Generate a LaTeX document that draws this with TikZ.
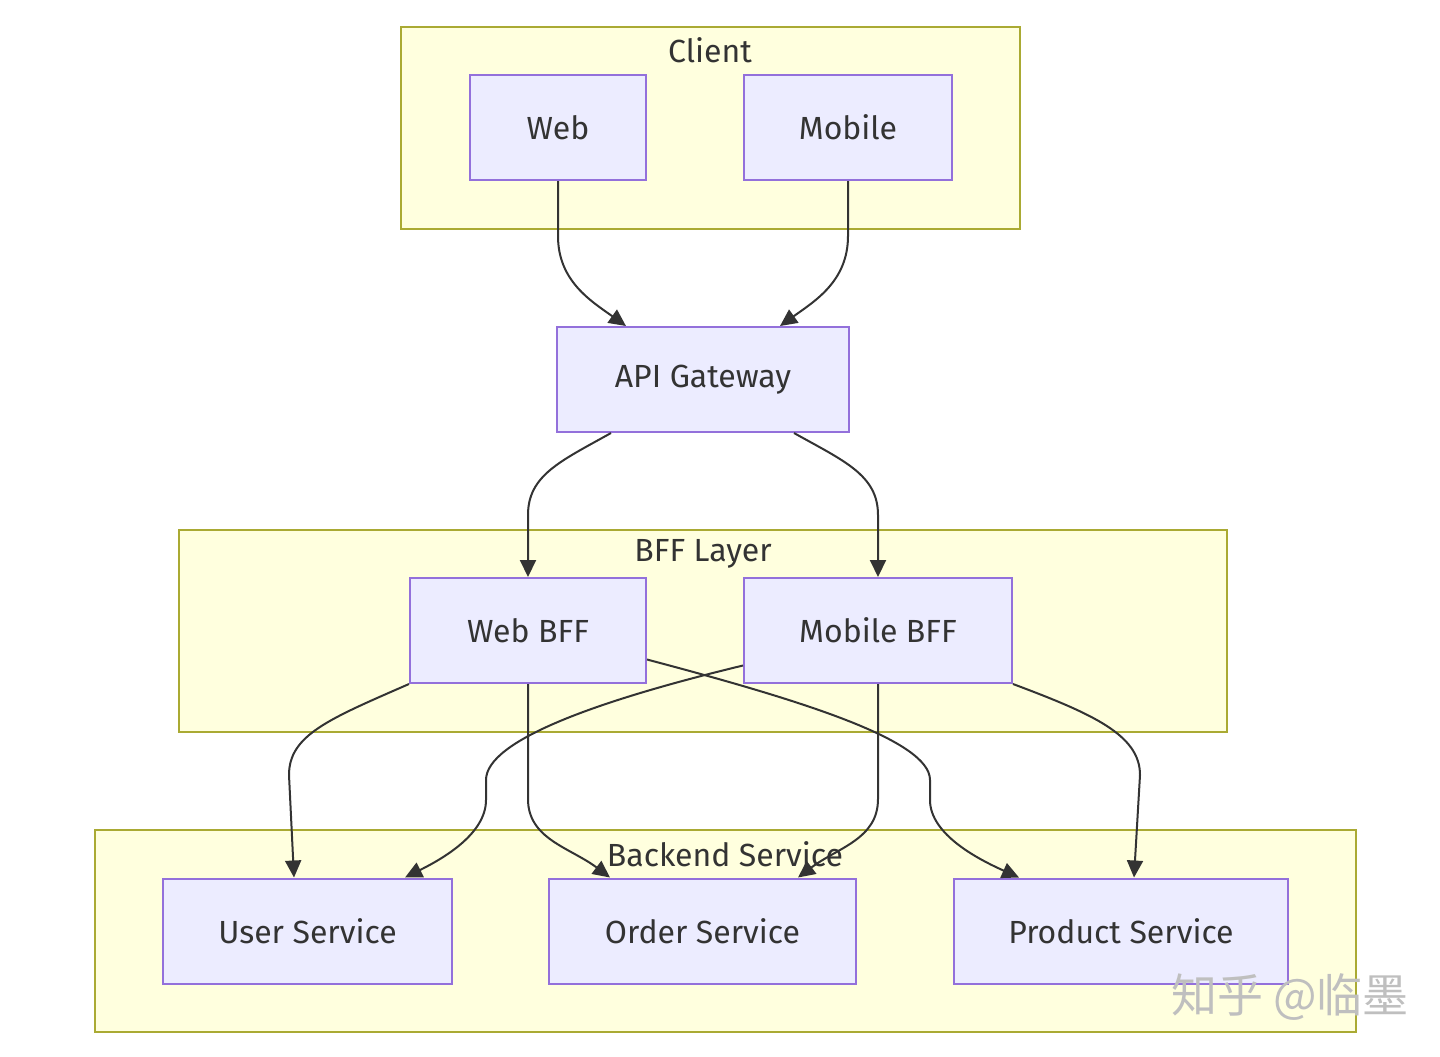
\documentclass[tikz,border=0pt]{standalone}
\usepackage{fontspec}
\setmainfont{Fira Sans}
\newfontfamily\cjk{Noto Sans CJK SC}
\usepackage{xcolor}
\usepackage{tikz}
\usetikzlibrary{arrows.meta,positioning,calc}
\definecolor{lilas}{HTML}{ECECFF}
\definecolor{roxo}{HTML}{9370DB}
\definecolor{amareloclaro}{HTML}{FFFFDE}
\definecolor{oliva}{HTML}{AAAA33}
\definecolor{cinzaescuro}{HTML}{333333}
\tikzset{
  grupo/.style={rectangle,draw=oliva,fill=amareloclaro,line width=1pt,inner sep=0pt},
  titulo/.style={font=\fontsize{16}{19}\selectfont,text=cinzaescuro,inner sep=0pt},
  caixa/.style={rectangle,draw=roxo,fill=lilas,line width=1pt,inner sep=0pt,
    minimum height=52.5pt,font=\fontsize{16}{19}\selectfont,text=cinzaescuro},
  seta/.style={-{Triangle[length=8.5pt,width=8pt]},line width=1pt,cinzaescuro}
}
\begin{document}
\begin{tikzpicture}[x=0.5pt,y=-0.5pt]
  \useasboundingbox (0,0) rectangle (1440,1056);
  % grupos
  \node[grupo,minimum width=309.5pt,minimum height=101pt] (gclient) at (710.5,128) {};
  \node[grupo,minimum width=524pt,minimum height=101pt] (gbff) at (703,631) {};
  \node[grupo,minimum width=630.5pt,minimum height=101pt] (gback) at (725.5,931) {};
  \node[titulo] (tclient) at (710,50) {Client};
  \node[titulo] (tbff) at (703,554) {BFF Layer};
  \node[titulo] (tback) at (725,854) {Backend Service};
  % nos
  \node[caixa,minimum width=88pt] (web) at (558,127.5) {Web};
  \node[caixa,minimum width=104pt] (mobile) at (848,127.5) {Mobile};
  \node[caixa,minimum width=146pt] (api) at (703,379.5) {API Gateway};
  \node[caixa,minimum width=118pt] (webbff) at (528,630.5) {Web BFF};
  \node[caixa,minimum width=134pt] (mobbff) at (878,630.5) {Mobile BFF};
  \node[caixa,minimum width=144.5pt] (user) at (307.5,931) {User Service};
  \node[caixa,minimum width=153.5pt] (order) at (702.5,931) {Order Service};
  \node[caixa,minimum width=167pt] (product) at (1121,931) {Product Service};
  % ligacoes
  \draw[seta] (web.south) -- ++(0,55) .. controls +(0,45) and +(-35,-25) .. ($(api.north west)+(70,0)$);
  \draw[seta] (mobile.south) -- ++(0,55) .. controls +(0,45) and +(35,-25) .. ($(api.north east)+(-70,0)$);
  \draw[seta] ($(api.south west)+(55,0)$) .. controls +(-50,28) and +(0,-40) .. ($(webbff.north)+(0,-62)$) -- (webbff.north);
  \draw[seta] ($(api.south east)+(-56,0)$) .. controls +(50,28) and +(0,-40) .. ($(mobbff.north)+(0,-62)$) -- (mobbff.north);
  \draw[seta] (webbff.south west) .. controls +(-80,35) and +(0,-40) .. (289,775) -- ($(user.north west)+(132,0)$);
  \draw[seta] (webbff.south) -- ++(0,115) .. controls +(0,40) and +(-40,-30) .. ($(order.north west)+(62,0)$);
  \draw[seta] ($(webbff.east)+(0,29)$) .. controls (800,700) and (930,740) .. (930,780) -- (930,800)
    .. controls (930,835) and (980,860) .. ($(product.north west)+(66,0)$);
  \draw[seta] ($(mobbff.west)+(0,35)$) .. controls (600,700) and (486,740) .. (486,780) -- (486,800)
    .. controls (486,835) and (440,860) .. ($(user.north east)+(-48,0)$);
  \draw[seta] (mobbff.south) -- ++(0,115) .. controls +(0,40) and +(40,-30) .. ($(order.north east)+(-59,0)$);
  \draw[seta] (mobbff.south east) .. controls +(80,30) and +(0,-40) .. (1140,775) -- ($(product.north east)+(-155,0)$);
  % marca
  \node[font=\cjk\fontsize{23}{26}\selectfont,text=black!25,inner sep=0pt] (marca) at (1290,997) {知乎 @临墨};
\end{tikzpicture}
\end{document}
